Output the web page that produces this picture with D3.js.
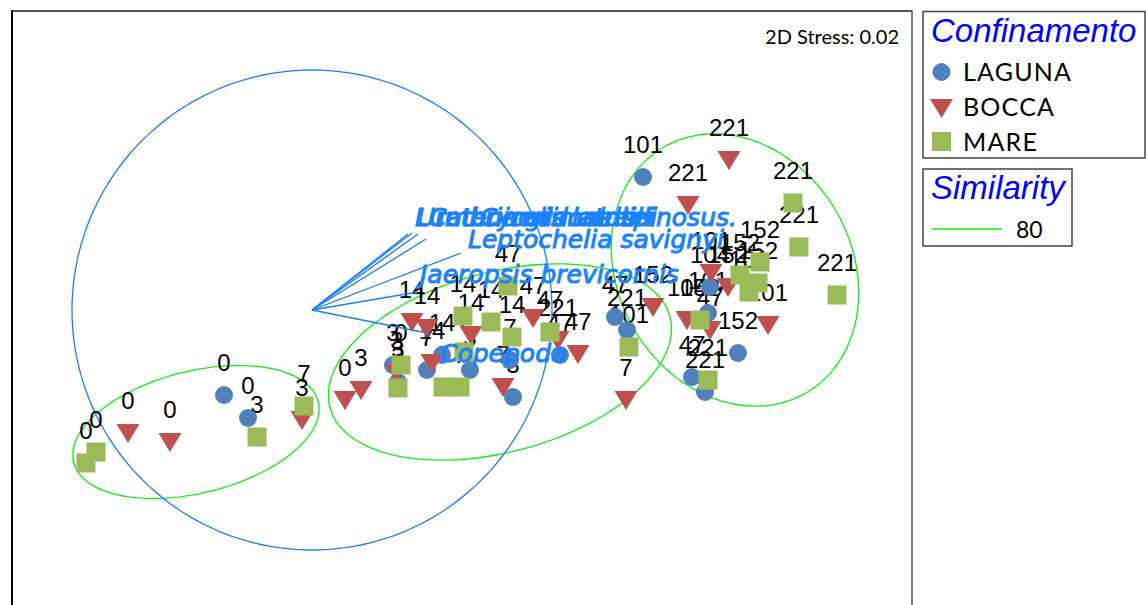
<!DOCTYPE html>
<html><head><meta charset="utf-8">
<script src="https://cdn.jsdelivr.net/npm/d3@7"></script>
<style>body{margin:0;background:#fff}svg{display:block}</style>
</head><body><svg id="c" width="1146" height="605"></svg>
<script>
// NMDS coordinates [x, y, sampling-day label]
const laguna = [
  [-2.38,-0.85,"0"],[-2.14,-1.08,"0"],[-0.69,-0.55,"3"],[-0.64,-0.72,"3"],[-0.35,-0.60,"7"],
  [-0.20,-0.45,"14"],[0.08,-0.60,"3"],[0.48,-0.50,"7"],[0.51,-0.87,"3"],[0.98,-0.45,"47"],
  [1.53,-0.07,"47"],[1.65,-0.20,"221"],[1.81,1.33,"101"],[2.48,0.23,"104"],[2.46,-0.03,"101"],
  [2.76,-0.43,"152"],[2.30,-0.67,"47"],[2.43,-0.82,"221"]
];
const bocca = [
  [-3.34,-1.23,"0"],[-2.92,-1.32,"0"],[-1.60,-1.10,"3"],[-1.17,-0.90,"0"],[-1.01,-0.80,"3"],
  [-0.65,-0.63,"3"],[-0.50,-0.12,"14"],[-0.35,-0.18,"14"],[-0.30,-0.53,"14"],[0.09,-0.25,"14"],
  [0.41,-0.77,"7"],[0.71,-0.08,"47"],[0.96,-0.30,"221"],[1.16,-0.44,"47"],[1.64,-0.90,"7"],
  [1.91,0.03,"152"],[2.67,1.50,"221"],[2.26,1.05,"221"],[2.49,0.37,"101"],[2.66,0.23,"152"],
  [2.25,-0.10,"104"],[2.48,-0.20,"47"],[3.06,-0.15,"101"]
];
const mare = [
  [-3.76,-1.53,"0"],[-3.66,-1.42,"0"],[-2.05,-1.27,"3"],[-1.58,-0.96,"7"],[-0.61,-0.55,"0"],
  [-0.64,-0.78,"3"],[-0.19,-0.77,"3"],[-0.02,-0.77,"7"],[0.01,-0.06,"14"],[0.02,-0.42,"7"],
  [0.29,-0.12,"14"],[0.50,-0.27,"14"],[0.46,0.24,"47"],[0.88,-0.22,"47"],[1.67,-0.37,"101"],
  [3.31,1.07,"221"],[3.37,0.63,"221"],[3.75,0.15,"221"],[2.98,0.48,"152"],[2.78,0.35,"152"],
  [2.96,0.27,"152"],[2.87,0.18,"101"],[2.38,-0.10,"152"],[2.46,-0.70,"221"]
];
const groups = ["LAGUNA","BOCCA","MARE"];
const groupColors = ["#4F81BD","#C0504D","#9BBB59"];
// Similarity 80 contours: [centerX, centerY, semiMajor, semiMinor, angleDeg]
const contours80 = [
  [-2.66,-1.22,1.26,0.61,13.9],
  [0.38,-0.52,1.76,0.90,15],
  [2.73,0.40,1.42,1.17,-60]
];
// vector overlay: origin, circle radius, vectors [dx, dy, name, labelX, labelY]
const vecOrigin = [-1.50, 0.0];
const vecRadius = 2.40;
const vectors = [
  [0.96,0.76,"Lumbrineris latreilli",-0.47,0.84],
  [1.00,0.77,"Urothoe grimaldii",-0.45,0.84],
  [1.06,0.76,"Catenicella contei",-0.33,0.84],
  [1.14,0.71,"Cymodoce spinosus.",0.18,0.84],
  [1.49,0.57,"Leptochelia savignyi",0.06,0.62],
  [1.06,0.18,"Jaeropsis brevicornis",-0.42,0.27],
  [1.15,-0.23,"Copepoda",-0.22,-0.52]
];
const stressText = "2D Stress: 0.02";
const similarityLevels = ["80"];

const svg = d3.select("#c");
const x = d3.scaleLinear().domain([-4.5,4.5]).range([12,912]);
const y = d3.scaleLinear().domain([3,-3]).range([10,610]);

// plot frame
svg.append("line").attr("x1",12).attr("x2",912).attr("y1",11).attr("y2",11).attr("stroke","#555").attr("stroke-width",2);
svg.append("line").attr("x1",12).attr("x2",12).attr("y1",10).attr("y2",605).attr("stroke","#000").attr("stroke-width",2);
svg.append("line").attr("x1",912).attr("x2",912).attr("y1",10).attr("y2",605).attr("stroke","#555").attr("stroke-width",1.5);

// contours
const line = d3.line().x(d=>x(d[0])).y(d=>y(d[1])).curve(d3.curveLinearClosed);
contours80.forEach(([cx,cy,a,b,ang])=>{
  const t = ang*Math.PI/180;
  const pts = d3.range(0,360,3).map(deg=>{
    const u = deg*Math.PI/180;
    const ex = a*Math.cos(u), ey = b*Math.sin(u);
    return [cx + ex*Math.cos(t) - ey*Math.sin(t), cy + ex*Math.sin(t) + ey*Math.cos(t)];
  });
  svg.append("path").attr("d",line(pts)).attr("fill","none").attr("stroke","#10ee10").attr("stroke-width",1.3);
});

// vector circle
const circPts = d3.range(0,360,2).map(deg=>[vecOrigin[0]+vecRadius*Math.cos(deg*Math.PI/180), vecOrigin[1]+vecRadius*Math.sin(deg*Math.PI/180)]);
svg.append("path").attr("d",line(circPts)).attr("fill","none").attr("stroke","#1a7dff").attr("stroke-width",1.3);

const allSamples = [];
[laguna,bocca,mare].forEach((arr,gi)=>arr.forEach(d=>allSamples.push({x:d[0],y:d[1],lab:d[2],g:gi})));

// sample labels
svg.append("g").selectAll("text").data(allSamples).join("text")
  .attr("x",d=>x(d.x)).attr("y",d=>y(d.y)-24).attr("text-anchor","middle")
  .attr("font-family","'Liberation Sans',Arial,sans-serif").attr("font-size",24).attr("fill","#000")
  .text(d=>d.lab);

// markers
const mk = svg.append("g");
allSamples.forEach(d=>{
  const px = x(d.x), py = y(d.y);
  if(d.g===0) mk.append("circle").attr("cx",px).attr("cy",py).attr("r",9).attr("fill",groupColors[0]);
  else if(d.g===1) mk.append("path").attr("d",`M${px-11.5},${py-9}L${px+11.5},${py-9}L${px},${py+10}Z`).attr("fill",groupColors[1]);
  else mk.append("rect").attr("x",px-9.5).attr("y",py-9.5).attr("width",19).attr("height",19).attr("fill",groupColors[2]);
});

// vectors
const vg = svg.append("g");
vectors.forEach(v=>{
  vg.append("line").attr("x1",x(vecOrigin[0])).attr("y1",y(vecOrigin[1]))
    .attr("x2",x(vecOrigin[0]+v[0])).attr("y2",y(vecOrigin[1]+v[1]))
    .attr("stroke","#1a7dff").attr("stroke-width",1.3);
});
vectors.forEach(v=>{
  vg.append("text").attr("x",x(v[3])).attr("y",y(v[4]))
    .attr("font-family","'DejaVu Sans',sans-serif").attr("font-style","italic").attr("font-size",25)
    .attr("fill","#1a82ff").attr("stroke","#1a82ff").attr("stroke-width",1.0)
    .text(v[2]);
});

// stress
svg.append("text").attr("x",899).attr("y",44).attr("text-anchor","end")
  .attr("font-family","Lato,sans-serif").attr("font-size",20).attr("fill","#000").text(stressText);

// legend 1
svg.append("rect").attr("x",923).attr("y",11.5).attr("width",222).attr("height",146.5).attr("fill","#fff").attr("stroke","#444").attr("stroke-width",1.5);
svg.append("text").attr("x",931).attr("y",42).attr("font-family","'Liberation Sans',Arial,sans-serif").attr("font-style","italic").attr("font-size",33).attr("fill","#0000ff").text("Confinamento");
const legY = [72,107,141.5];
groups.forEach((g,i)=>{
  const cy = legY[i];
  if(i===0) svg.append("circle").attr("cx",941.5).attr("cy",cy).attr("r",9).attr("fill",groupColors[0]);
  else if(i===1) svg.append("path").attr("d",`M${930},${cy-8}L${953},${cy-8}L${941.5},${cy+11}Z`).attr("fill",groupColors[1]);
  else svg.append("rect").attr("x",932).attr("y",cy-9.5).attr("width",19).attr("height",19).attr("fill",groupColors[2]);
  svg.append("text").attr("x",963).attr("y",cy+9).attr("font-family","Lato,sans-serif").attr("font-size",25)
    .attr("letter-spacing",1.2).attr("fill","#000").text(g);
});
// legend 2
svg.append("rect").attr("x",923).attr("y",169).attr("width",149).attr("height",77).attr("fill","#fff").attr("stroke","#444").attr("stroke-width",1.5);
svg.append("text").attr("x",931).attr("y",199).attr("font-family","'Liberation Sans',Arial,sans-serif").attr("font-style","italic").attr("font-size",33).attr("fill","#0000ff").text("Similarity");
svg.append("line").attr("x1",932).attr("x2",1002).attr("y1",229).attr("y2",229).attr("stroke","#10ee10").attr("stroke-width",1.3);
svg.append("text").attr("x",1016).attr("y",238).attr("font-family","Lato,sans-serif").attr("font-size",23).attr("fill","#000").text(similarityLevels[0]);
</script></body></html>
